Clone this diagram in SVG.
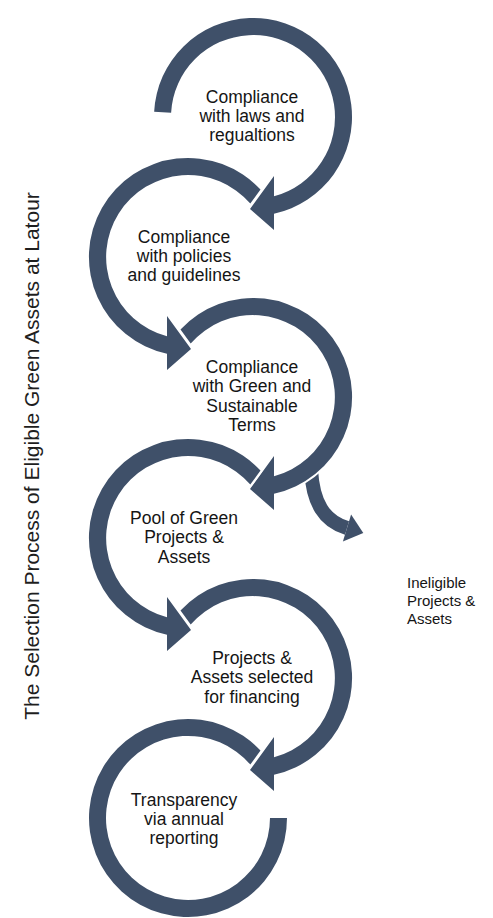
<svg xmlns="http://www.w3.org/2000/svg" xmlns:xlink="http://www.w3.org/1999/xlink" width="493" height="918" viewBox="0 0 493 918">
<style>
.ring{fill:#3F5069;}
.halo{fill:#ffffff;stroke:#ffffff;stroke-width:4;stroke-linejoin:round;}
.lbl{font-family:"Liberation Sans",Arial,sans-serif;font-size:17.5px;fill:#151515;text-anchor:middle;}
.side{font-family:"Liberation Sans",Arial,sans-serif;font-size:15px;fill:#151515;}
.title{font-family:"Liberation Sans",Arial,sans-serif;font-size:21px;fill:#1e1e1e;text-anchor:middle;}
</style>
<defs>
<path id="oddArrow" d="M -72.5 -67.4 A 99 99 0 1 1 21 96.7 L 21 113 L -3 92 L 21 59 L 21 79.3 A 82 82 0 1 0 -62.3 -53.4 Z"/>
<path id="evenArrow" d="M 72.5 -67.4 A 99 99 0 1 0 -21 96.7 L -21 113 L 3 92 L -21 59 L -21 79.3 A 82 82 0 1 1 62.3 -53.4 Z"/>
<path id="firstArrow" d="M -98.86 -5.18 A 99 99 0 1 1 21 96.7 L 21 113 L -3 92 L 21 59 L 21 79.3 A 82 82 0 1 0 -81.89 -4.29 Z"/>
<path id="lastArc" d="M 72.5 -67.4 A 99 99 0 1 0 99 0 L 82 0 A 82 82 0 1 1 62.3 -53.4 Z"/>
</defs>
<rect width="493" height="918" fill="#ffffff"/>

<g id="connectors">
<g id="ineligible-arrow">
<path d="M 311 470 C 313 503, 324 521, 347 528" fill="none" stroke="#3F5069" stroke-width="14"/>
<polygon points="351.1,514.6 363.3,533 342.9,541.4" fill="#3F5069"/>
</g>
</g>

<g id="step1">
<g transform="translate(253,117)"><use xlink:href="#firstArrow" class="halo"/><use xlink:href="#firstArrow" class="ring"/></g>
<text class="lbl" x="252" y="103">Compliance</text>
<text class="lbl" x="252" y="122">with laws and</text>
<text class="lbl" x="252" y="141">regualtions</text>
</g>

<g id="step2">
<g transform="translate(188,257)"><use xlink:href="#evenArrow" class="halo"/><use xlink:href="#evenArrow" class="ring"/></g>
<text class="lbl" x="184" y="243">Compliance</text>
<text class="lbl" x="184" y="262">with policies</text>
<text class="lbl" x="184" y="281">and guidelines</text>
</g>

<g id="step3">
<g transform="translate(253,397)"><use xlink:href="#oddArrow" class="halo"/><use xlink:href="#oddArrow" class="ring"/></g>
<text class="lbl" x="252" y="373">Compliance</text>
<text class="lbl" x="252" y="392">with Green and</text>
<text class="lbl" x="252" y="412">Sustainable</text>
<text class="lbl" x="252" y="431">Terms</text>
</g>

<g id="step4">
<g transform="translate(188,538)"><use xlink:href="#evenArrow" class="halo"/><use xlink:href="#evenArrow" class="ring"/></g>
<text class="lbl" x="184" y="524">Pool of Green</text>
<text class="lbl" x="184" y="543">Projects &amp;</text>
<text class="lbl" x="184" y="563">Assets</text>
</g>

<g id="step5">
<g transform="translate(253,678)"><use xlink:href="#oddArrow" class="halo"/><use xlink:href="#oddArrow" class="ring"/></g>
<text class="lbl" x="252" y="664">Projects &amp;</text>
<text class="lbl" x="252" y="683">Assets selected</text>
<text class="lbl" x="252" y="703">for financing</text>
</g>

<g id="step6">
<g transform="translate(188,818)"><use xlink:href="#lastArc" class="halo"/><use xlink:href="#lastArc" class="ring"/></g>
<text class="lbl" x="184" y="806">Transparency</text>
<text class="lbl" x="184" y="825">via annual</text>
<text class="lbl" x="184" y="844">reporting</text>
</g>

<g id="ineligible">
<text class="side" x="407" y="588">Ineligible</text>
<text class="side" x="407" y="606">Projects &amp;</text>
<text class="side" x="407" y="624">Assets</text>
</g>

<g id="title">
<text class="title" transform="translate(39,456) rotate(-90)">The Selection Process of Eligible Green Assets at Latour</text>
</g>
</svg>
